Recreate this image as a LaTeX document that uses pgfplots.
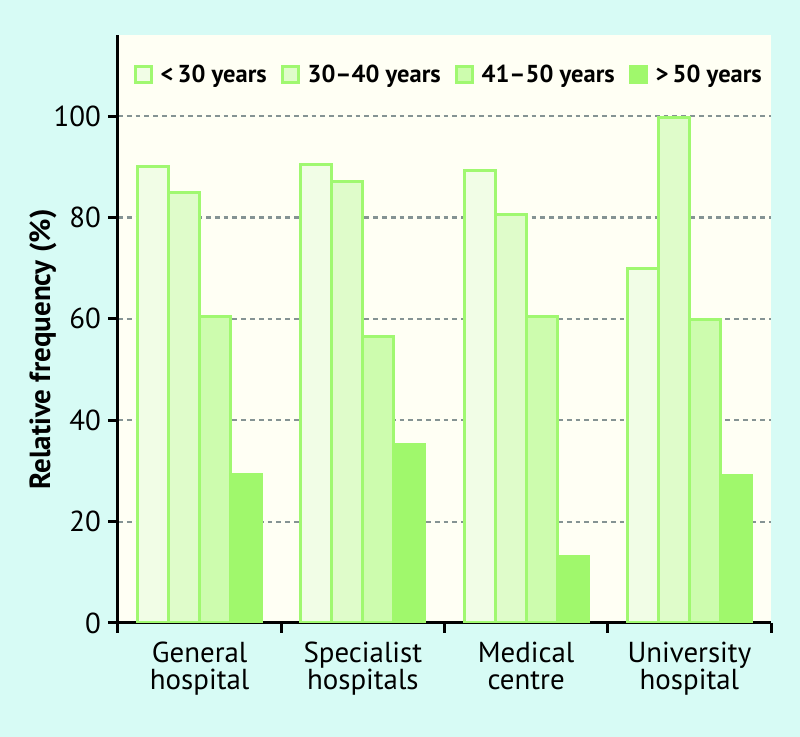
\documentclass[border=0pt]{standalone}
\usepackage{fontspec}
\setmainfont{PT Sans}
\usepackage{pgfplots}
\pgfplotsset{compat=1.18}
\definecolor{bgc}{HTML}{D7FBF5}
\definecolor{ivory}{HTML}{FFFFF4}
\definecolor{bord}{HTML}{A0F870}
\definecolor{ca}{HTML}{F1FDE6}
\definecolor{cb}{HTML}{DFFCCA}
\definecolor{cc}{HTML}{CDFCAE}
\definecolor{cd}{HTML}{A0F86C}
\definecolor{gridc}{HTML}{859393}
\begin{document}
\begin{tikzpicture}
\fill[bgc] (0,0) rectangle (400bp,368.5bp);
\begin{axis}[
  at={(59bp,57bp)}, anchor=south west,
  scale only axis, width=326.5bp, height=294bp,
  xmin=0, xmax=4, ymin=0, ymax=116,
  axis background/.style={fill=ivory},
  axis x line=bottom, axis y line=left,
  axis line style={-, line width=1.5bp, black},
  tick align=outside,
  major tick length=5bp,
  tick style={line width=1.5bp, black},
  xtick={0,1,2,3,4}, xticklabels={},
  extra x ticks={0.5,1.5,2.5,3.5},
  extra x tick labels={General\\hospital, Specialist\\hospitals, Medical\\centre, University\\hospital},
  extra x tick style={major tick length=0pt, grid=none},
  x tick label style={align=center, font=\fontsize{14.5}{13.5}\selectfont, yshift=-6bp},
  ytick={0,20,40,60,80,100},
  y tick label style={font=\fontsize{14.5}{15}\selectfont},
  /pgf/number format/assume math mode=true,
  ymajorgrids,
  major grid style={gridc, line width=1.1bp, dash pattern=on 2.4bp off 2bp},
  ylabel={\bfseries Relative frequency (\%)},
  ylabel style={font=\fontsize{14.6}{15}\selectfont, at={(axis description cs:-0.115,0.465)}, anchor=center},
  ybar=0pt, bar width=0.19,
  legend image code/.code={\draw[#1, line width=1.5bp] (0bp,-4bp) rectangle (8bp,4bp);},
  legend style={draw=none, fill=none, legend columns=4, at={(0.508,0.932)}, anchor=center,
    font=\bfseries\fontsize{12.3}{14}\selectfont,
    /tikz/every odd column/.append style={column sep=2bp},
    /tikz/every even column/.append style={column sep=5bp}},
]
\addplot[fill=ca, draw=bord, line width=1.5bp] coordinates {(0.5,90) (1.5,90.5) (2.5,89.2) (3.5,70)};
\addplot[fill=cb, draw=bord, line width=1.5bp] coordinates {(0.5,85) (1.5,87) (2.5,80.5) (3.5,99.8)};
\addplot[fill=cc, draw=bord, line width=1.5bp] coordinates {(0.5,60.5) (1.5,56.5) (2.5,60.5) (3.5,59.8)};
\addplot[fill=cd, draw=cd, line width=1.5bp] coordinates {(0.5,29.3) (1.5,35.3) (2.5,13.2) (3.5,29)};
\legend{<\,30 years, 30--40 years, 41--50 years, >\,50 years}
\end{axis}
\pgfresetboundingbox
\useasboundingbox (0,0) rectangle (400bp,368.5bp);
\end{tikzpicture}
\end{document}
